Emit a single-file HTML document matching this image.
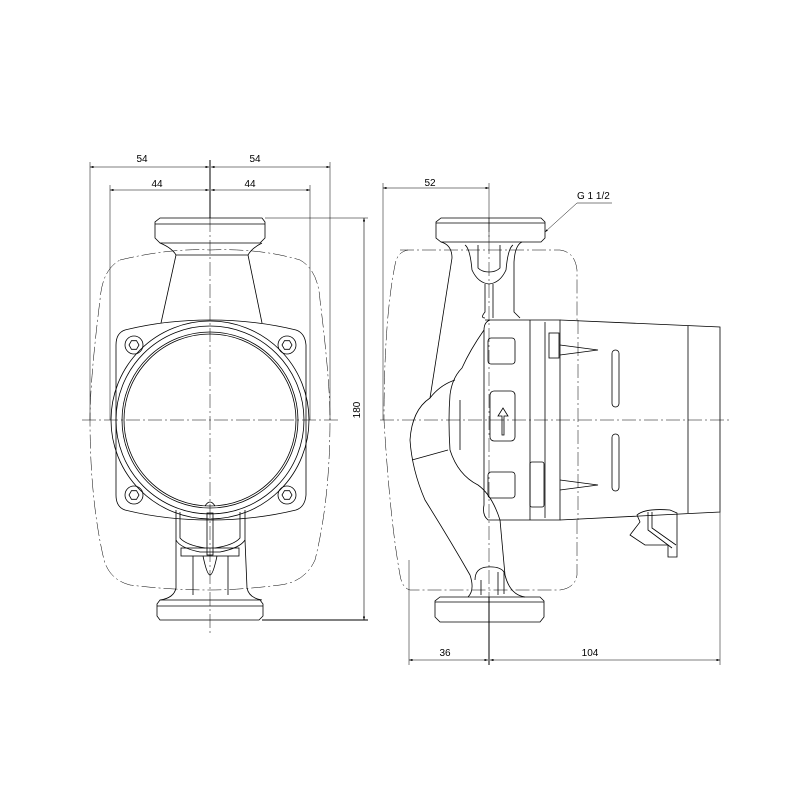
<!DOCTYPE html>
<html><head><meta charset="utf-8"><style>
html,body{margin:0;padding:0;background:#fff}
svg{display:block}
text{font-family:"Liberation Sans",sans-serif;font-size:10px;fill:#000}
</style></head><body>
<svg width="800" height="800" viewBox="0 0 800 800" xmlns="http://www.w3.org/2000/svg">
<defs>
<marker id="a" markerWidth="6" markerHeight="4" refX="6" refY="2" orient="auto-start-reverse"><path d="M0,0 L6,2 L0,4z" fill="#000"/></marker>
</defs>
<g fill="none" stroke="#000" stroke-width="0.8">
<!-- LEFT VIEW -->
<g stroke-width="0.5">
<line x1="90" y1="162" x2="90" y2="420"/><line x1="330" y1="162" x2="330" y2="420"/>
<line x1="110" y1="185" x2="110" y2="420"/><line x1="310" y1="185" x2="310" y2="420"/>
<line x1="210" y1="160" x2="210" y2="218" stroke-width="1"/>
<line x1="265" y1="218" x2="368" y2="218"/><line x1="262" y1="620" x2="368" y2="620" stroke-width="1"/>
</g>
<line x1="90" y1="167" x2="209" y2="167" marker-start="url(#a)" marker-end="url(#a)" stroke-width="0.6"/>
<line x1="211" y1="167" x2="330" y2="167" marker-start="url(#a)" marker-end="url(#a)" stroke-width="0.6"/>
<line x1="110" y1="190" x2="209" y2="190" marker-start="url(#a)" marker-end="url(#a)" stroke-width="0.6"/>
<line x1="211" y1="190" x2="310" y2="190" marker-start="url(#a)" marker-end="url(#a)" stroke-width="0.6"/>
<line x1="364" y1="218" x2="364" y2="620" marker-start="url(#a)" marker-end="url(#a)" stroke-width="0.6"/>
<g stroke-dasharray="14,3,2,3" stroke-width="0.5">
<line x1="82" y1="420" x2="340" y2="420"/>
<line x1="210" y1="218" x2="210" y2="635"/>
</g>
<path d="M120,260 Q170,248 210,250 Q260,248 300,260 Q318,270 320,300 Q330,380 330,420 Q330,500 315,560 Q305,582 280,585 Q240,590 210,590 Q170,590 130,585 Q110,580 104,560 Q90,500 90,420 Q90,380 100,300 Q102,270 120,260z" stroke-dasharray="14,3,2,3" stroke-width="0.5"/>
<path d="M160,218 L262,218 L265,222 L265,238 L260,243 L160,243 L155,238 L155,222z"/>
<line x1="155" y1="224" x2="265" y2="224"/>
<path d="M160,243 Q172,248 176,255 L248,255 Q252,248 262,243"/>
<path d="M176,255 L161,323 M248,255 L262,323"/>
<path d="M125,330 Q165,320 210,320 Q255,320 296,330 Q305,333 306,345 L306,495 Q305,507 296,510 Q255,520 210,520 Q165,520 125,510 Q116,507 116,495 L116,345 Q116,333 125,330z"/>
<circle cx="210" cy="420" r="99"/>
<circle cx="210" cy="420" r="94"/>
<circle cx="210" cy="420" r="88"/>
<circle cx="210" cy="420" r="86"/>
<g>
<circle cx="134" cy="345" r="9"/><path d="M129,345 l2.5,-4.3 h5 l2.5,4.3 l-2.5,4.3 h-5z"/>
<circle cx="287" cy="345" r="9"/><path d="M282,345 l2.5,-4.3 h5 l2.5,4.3 l-2.5,4.3 h-5z"/>
<circle cx="134" cy="495" r="9"/><path d="M129,495 l2.5,-4.3 h5 l2.5,4.3 l-2.5,4.3 h-5z"/>
<circle cx="287" cy="495" r="9"/><path d="M282,495 l2.5,-4.3 h5 l2.5,4.3 l-2.5,4.3 h-5z"/>
</g>
<path d="M205,506 Q210,498 215,506"/>
<path d="M176,510 L176,540 Q180,548 200,552 L220,552 Q240,548 245,540 L245,510"/>
<path d="M180,512 L180,538 Q186,545 205,548 M240,512 L240,538 Q234,545 215,548"/>
<rect x="207" y="513" width="6" height="42"/>
<rect x="181" y="548" width="58" height="8"/>
<path d="M203,556 Q207,575 210,575 Q213,575 217,556"/>
<path d="M176,540 L176,588 Q174,598 160,600 M245,540 L247,588 Q249,598 262,600"/>
<path d="M193,556 L193,595 M228,556 L228,595"/>
<path d="M160,600 L260,600 L263,604 L263,616 L259,620 L160,620 L157,616 L157,604z"/>
<line x1="157" y1="606" x2="263" y2="606"/>

<!-- RIGHT VIEW -->
<g stroke-width="0.5">
<line x1="383" y1="183" x2="383" y2="420"/>
<line x1="489" y1="183" x2="489" y2="240"/>
<line x1="409" y1="560" x2="409" y2="665"/>
<line x1="720" y1="512" x2="720" y2="665"/>
<line x1="489" y1="597" x2="489" y2="665" stroke-width="1"/>
</g>
<line x1="383" y1="188" x2="489" y2="188" marker-start="url(#a)" marker-end="url(#a)" stroke-width="0.6"/>
<line x1="409" y1="660" x2="488" y2="660" marker-start="url(#a)" marker-end="url(#a)" stroke-width="0.6"/>
<line x1="490" y1="660" x2="720" y2="660" marker-start="url(#a)" marker-end="url(#a)" stroke-width="0.6"/>
<path d="M545,232 L577,203 L612,203" stroke-width="0.5" marker-start="url(#a)"/>
<g stroke-dasharray="14,3,2,3" stroke-width="0.5">
<line x1="380" y1="420" x2="730" y2="420"/>
<line x1="489" y1="218" x2="489" y2="635"/>
<line x1="578" y1="320" x2="578" y2="520"/>
<path d="M400,250 L560,250 Q575,252 577,270 L577,320 M577,520 L577,575 Q575,588 560,590 L410,590 Q402,588 400,575 Q390,520 384,420 Q384,320 395,265 Q397,252 408,250"/>
</g>
<path d="M441,218 L541,218 L545,222 L545,238 L541,242 L441,242 L436,238 L436,222z"/>
<line x1="436" y1="223" x2="545" y2="223"/>
<!-- body outer -->
<path d="M441,242 Q452,245 452,258 L430,398 Q412,410 410,440 Q412,470 425,500 Q450,540 470,575 Q475,590 468,597"/>
<path d="M522,242 Q515,245 514,262 L514,312 L520,318"/>
<!-- body inner -->
<path d="M484,330 Q470,350 462,368 Q452,378 450,395 Q448,420 450,450 Q458,475 478,485 Q492,495 500,520 L505,575 Q510,595 525,597"/>
<path d="M460,400 L460,450 M430,398 Q440,385 455,380 M412,460 Q430,455 448,450"/>
<path d="M465,245 Q470,248 472,270 Q478,283 489,284 Q500,283 506,270 Q508,248 513,245"/>
<path d="M478,245 L478,268 Q482,272 489,272 Q496,272 500,268 L500,245"/>
<path d="M485,284 L485,312 Q480,318 485,318 M493,284 L493,318"/>
<path d="M485,320 L560,320 L560,520 L488,520 Q482,515 484,505 L484,330 Q484,322 490,320z"/>
<line x1="530" y1="320" x2="530" y2="520"/>
<line x1="545" y1="322" x2="545" y2="518"/>
<rect x="488" y="338" width="27" height="26" rx="3"/>
<rect x="488" y="472" width="27" height="26" rx="3"/>
<rect x="490" y="391" width="25" height="50" rx="4"/>
<path d="M502,435 L502,416 L498,416 L503,408 L508,416 L504,416 L504,435z"/>
<rect x="530" y="462" width="14" height="45" rx="2"/>
<rect x="549" y="333" width="10" height="25"/>
<path d="M560,320 L720,327 L720,512 L560,520"/>
<line x1="688" y1="326" x2="688" y2="513"/>
<path d="M560,345 L598,350 L560,355 M560,480 L598,485 L560,490"/>
<rect x="612" y="350" width="7" height="57" rx="3.5"/>
<rect x="612" y="434" width="7" height="57" rx="3.5"/>
<path d="M637,515 Q645,508 670,510 L677,513 L677,557 L668,557 L668,545 L645,545 L630,535 L640,522z"/>
<path d="M648,512 L648,530 L672,548 M652,512 L652,528 L676,545"/>
<path d="M475,580 Q475,568 487,567 Q500,566 504,572 L504,594 M481,580 L481,595 M498,572 L498,595"/>
<path d="M440,597 L540,597 L544,601 L544,617 L540,622 L440,622 L435,617 L435,601z"/>
<line x1="435" y1="602" x2="544" y2="602"/>
</g>
<g>
<text x="142" y="162" text-anchor="middle">54</text>
<text x="255" y="162" text-anchor="middle">54</text>
<text x="157" y="187" text-anchor="middle">44</text>
<text x="250" y="187" text-anchor="middle">44</text>
<text transform="translate(360,410) rotate(-90)" text-anchor="middle">180</text>
<text x="430" y="186" text-anchor="middle">52</text>
<text x="577" y="199">G 1 1/2</text>
<text x="445" y="656" text-anchor="middle">36</text>
<text x="590" y="656" text-anchor="middle">104</text>
</g>
</svg>
</body></html>
